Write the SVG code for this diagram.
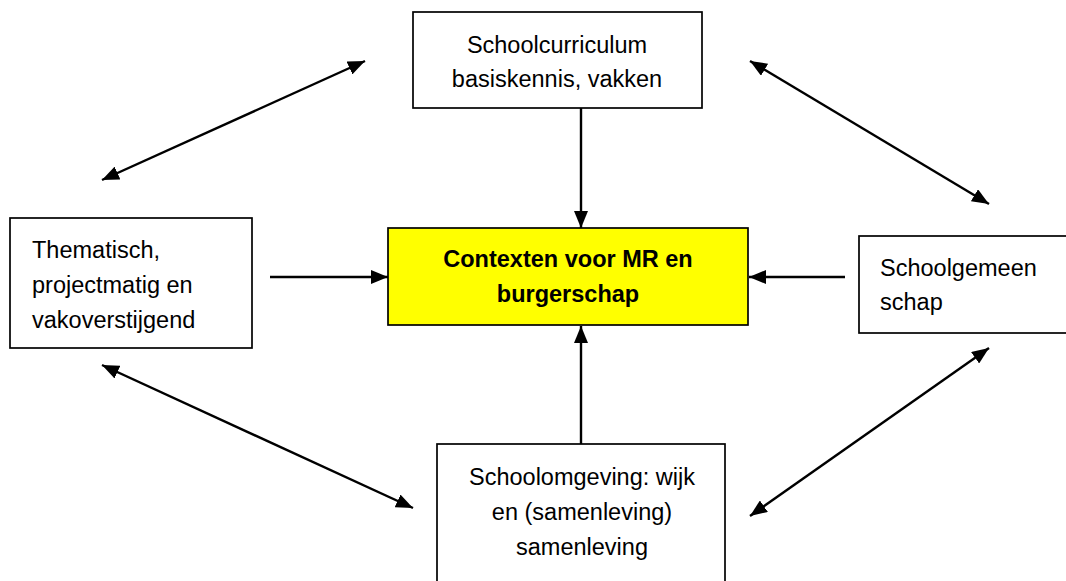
<svg xmlns="http://www.w3.org/2000/svg" width="1066" height="581" viewBox="0 0 1066 581">
<style>
.box{fill:#ffffff;stroke:#000000;stroke-width:1.7}
.center{fill:#ffff00;stroke:#000000;stroke-width:1.7}
.t{font-family:"Liberation Sans",Arial,sans-serif;font-size:23.5px;fill:#000000}
.b{font-weight:bold}
.c{stroke:#000000;stroke-width:2.4;fill:none;marker-end:url(#ah)}
.d{stroke:#000000;stroke-width:2.4;fill:none;marker-start:url(#ahs);marker-end:url(#ah)}
</style>
<defs>
<marker id="ah" viewBox="0 0 17 14" refX="17" refY="7" markerWidth="17" markerHeight="14" markerUnits="userSpaceOnUse" orient="auto">
<path d="M0,0 L17,7 L0,14 Z" fill="#000"/>
</marker>
<marker id="ahs" viewBox="0 0 17 14" refX="0" refY="7" markerWidth="17" markerHeight="14" markerUnits="userSpaceOnUse" orient="auto">
<path d="M17,0 L0,7 L17,14 Z" fill="#000"/>
</marker>
</defs>
<rect width="1066" height="581" fill="#ffffff"/>
<g id="connectors">
<line class="c" x1="581" y1="108" x2="581" y2="228"/>
<line class="c" x1="581" y1="444" x2="581" y2="326"/>
<line class="c" x1="270" y1="277" x2="388" y2="277"/>
<line class="c" x1="845" y1="277" x2="749" y2="277"/>
<line class="d" x1="102" y1="180" x2="365" y2="61"/>
<line class="d" x1="750" y1="61" x2="989" y2="204"/>
<line class="d" x1="102" y1="365" x2="413" y2="508"/>
<line class="d" x1="750" y1="516" x2="989" y2="348"/>
</g>
<g id="node-curriculum">
<rect class="box" x="413" y="12" width="289" height="96"/>
<text class="t" x="557" y="53" text-anchor="middle">Schoolcurriculum</text>
<text class="t" x="557" y="87" text-anchor="middle">basiskennis, vakken</text>
</g>
<g id="node-center">
<rect class="center" x="388" y="228" width="360" height="97"/>
<text class="t b" x="568" y="267" text-anchor="middle">Contexten voor MR en</text>
<text class="t b" x="568" y="302" text-anchor="middle">burgerschap</text>
</g>
<g id="node-thematisch">
<rect class="box" x="10" y="218" width="242" height="130"/>
<text class="t" x="32" y="258">Thematisch,</text>
<text class="t" x="32" y="293">projectmatig en</text>
<text class="t" x="32" y="328">vakoverstijgend</text>
</g>
<g id="node-schoolgemeenschap">
<rect class="box" x="859" y="236" width="220" height="97"/>
<text class="t" x="880" y="276">Schoolgemeen</text>
<text class="t" x="880" y="310">schap</text>
</g>
<g id="node-omgeving">
<rect class="box" x="437" y="444" width="288" height="150"/>
<text class="t" x="582" y="485" text-anchor="middle">Schoolomgeving: wijk</text>
<text class="t" x="582" y="520" text-anchor="middle">en (samenleving)</text>
<text class="t" x="582" y="555" text-anchor="middle">samenleving</text>
</g>
</svg>
